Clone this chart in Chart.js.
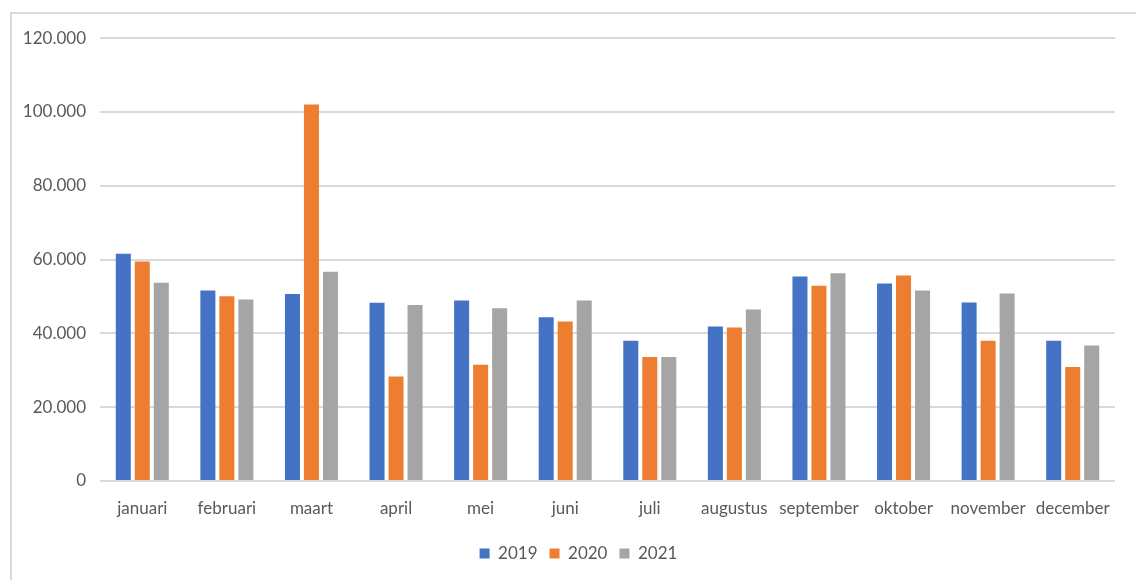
<!DOCTYPE html>
<html>
<head>
<meta charset="utf-8">
<script src="https://cdn.jsdelivr.net/npm/chart.js@4/dist/chart.umd.min.js"></script>
<style>
  html, body { margin: 0; padding: 0; background: #fff; overflow: hidden; width: 1136px; height: 580px; }
  #frame { position: absolute; left: 10px; top: 12px; width: 1140px; height: 580px; border-left: 2px solid #d9d9d9; border-top: 2px solid #d9d9d9; box-sizing: border-box; }
  #wrap { position: absolute; left: 10px; top: 14px; width: 1136px; height: 566px; }
</style>
</head>
<body>
<div id="frame"></div>
<div id="wrap"><canvas id="c" width="1136" height="566"></canvas></div>
<script>
const categories = ['januari','februari','maart','april','mei','juni','juli','augustus','september','oktober','november','december'];
const series2019 = [61600, 51600, 50700, 48300, 48900, 44400, 38000, 41900, 55400, 53500, 48400, 38000];
const series2020 = [59500, 50100, 102000, 28300, 31500, 43200, 33600, 41600, 52900, 55700, 38000, 30900];
const series2021 = [53700, 49200, 56700, 47700, 46800, 48900, 33600, 46500, 56300, 51600, 50800, 36700];
const seriesNames = ['2019', '2020', '2021'];
const yTicks = [0, 20000, 40000, 60000, 80000, 100000, 120000];

const colors = ['#4472C4', '#ED7D31', '#A5A5A5'];
const textColor = '#595959';
const fontFamily = 'Lato, "Open Sans", sans-serif';

function fmt(v) {
  return v.toString().replace(/\B(?=(\d{3})+(?!\d))/g, '.');
}

const legendShift = {
  id: 'legendShift',
  afterLayout(chart) {
    if (chart.legend) {
      chart.legend.left += 16;
      chart.legend.right += 16;
    }
  }
};

new Chart(document.getElementById('c'), {
  type: 'bar',
  data: {
    labels: categories,
    datasets: [series2019, series2020, series2021].map((d, i) => ({
      label: seriesNames[i],
      data: d,
      backgroundColor: colors[i],
      borderWidth: 0,
      barPercentage: 0.79,
      categoryPercentage: 0.674
    }))
  },
  plugins: [legendShift],
  options: {
    responsive: false,
    animation: false,
    devicePixelRatio: 1,
    layout: { padding: { left: 0, right: 31, top: 23, bottom: 8 } },
    plugins: {
      tooltip: { enabled: false },
      legend: {
        position: 'bottom',
        labels: {
          boxWidth: 10,
          boxHeight: 10,
          padding: 12,
          color: textColor,
          font: { family: fontFamily, size: 17 }
        }
      }
    },
    scales: {
      x: {
        grid: { display: false, drawTicks: false },
        border: { display: false },
        ticks: { color: textColor, font: { family: fontFamily, size: 17 }, padding: 17, maxRotation: 0, autoSkip: false },
        afterFit: (s) => { s.height = 52; }
      },
      y: {
        min: 0,
        max: 120000,
        afterBuildTicks: (s) => { s.ticks = yTicks.map(v => ({ value: v })); },
        grid: { color: '#d9d9d9', lineWidth: 2, drawTicks: false },
        border: { display: false },
        ticks: { color: textColor, font: { family: fontFamily, size: 17 }, padding: 14, callback: (v) => fmt(v) },
        afterFit: (s) => { s.width = 90; }
      }
    }
  }
});
</script>
</body>
</html>
